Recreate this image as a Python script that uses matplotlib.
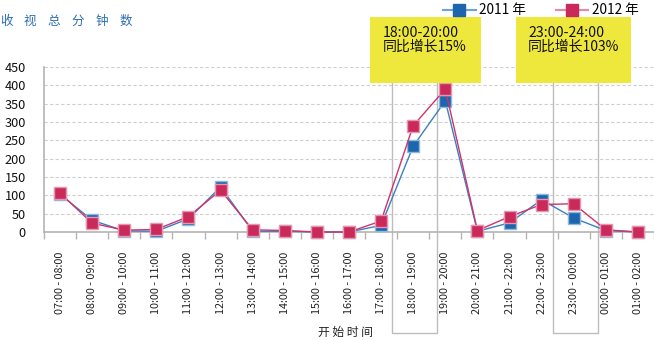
import matplotlib
matplotlib.use("Agg")
import matplotlib.pyplot as plt
import matplotlib.transforms as mtransforms
from matplotlib.lines import Line2D
from matplotlib.patches import Rectangle

plt.rcParams['font.family'] = ['Noto Sans CJK SC', 'DejaVu Sans']

slots = ["07:00 - 08:00", "08:00 - 09:00", "09:00 - 10:00", "10:00 - 11:00",
         "11:00 - 12:00", "12:00 - 13:00", "13:00 - 14:00", "14:00 - 15:00",
         "15:00 - 16:00", "16:00 - 17:00", "17:00 - 18:00", "18:00 - 19:00",
         "19:00 - 20:00", "20:00 - 21:00", "21:00 - 22:00", "22:00 - 23:00",
         "23:00 - 00:00", "00:00 - 01:00", "01:00 - 02:00"]
minutes_2011 = [103, 32, 3, 2, 36, 123, 2, 2, 0, 0, 18, 234, 358, 2, 25, 88, 38, 4, 0]
minutes_2012 = [106, 24, 5, 7, 42, 114, 6, 4, 0, 0, 30, 290, 390, 4, 42, 75, 77, 6, 0]
yticks = [0, 50, 100, 150, 200, 250, 300, 350, 400, 450]

BLUE = "#1d66ad"
RED = "#c92a5a"
YELLOW = "#efe83c"

W, H = 654, 340
fig = plt.figure(figsize=(W / 100, H / 100), dpi=100)
ax = fig.add_axes([44 / W, 1 - 232 / H, 610 / W, 165 / H])

x = list(range(len(slots)))
ax.plot(x, minutes_2011, color="#3a80c4", lw=1.0, marker="s", ms=8,
        mfc=BLUE, mec="#8fb8df", mew=1.0, zorder=3, clip_on=False)
ax.plot(x, minutes_2012, color="#d0336a", lw=1.0, marker="s", ms=8,
        mfc=RED, mec="#e795b1", mew=1.0, zorder=4, clip_on=False)

ax.set_xlim(-0.5, len(slots) - 0.5)
ax.set_ylim(0, 450)
ax.set_yticks(yticks)
ax.set_xticks(x)
ax.set_xticklabels(slots, rotation=90, fontsize=7.8, color="#222222")
ax.set_xticks([i - 0.5 for i in range(len(slots) + 1)], minor=True)
ax.tick_params(axis="x", which="major", length=0, pad=14)
ax.tick_params(axis="x", which="minor", length=5, color="#b4b4b4", width=1)
ax.tick_params(axis="y", length=0, pad=13, labelsize=9.2, labelcolor="#111111")

ax.grid(axis="y", color="#cfcfcf", lw=0.8, linestyle=(0, (3, 2)))
ax.set_axisbelow(True)
for side in ("top", "right"):
    ax.spines[side].set_visible(False)
for side in ("left", "bottom"):
    ax.spines[side].set_color("#b4b4b4")
    ax.spines[side].set_linewidth(1.2)

# title, spaced out character by character
for cx, ch in zip([6, 30, 54, 78, 102, 126], "收视总分钟数"):
    fig.text(cx / W, 1 - 21 / H, ch, color="#2a6db5", fontsize=9,
             ha="center", va="center")

fig.text(345 / W, 1 - 332 / H, "开 始 时 间", fontsize=8.5, ha="center",
         va="center", color="#222222")

# highlight frames around the two compared slots
blend = mtransforms.blended_transform_factory(ax.transData, fig.transFigure)
for idx in (11, 16):
    ax.add_patch(Rectangle((idx - 0.65, 1 - 333 / H), 1.4, 258 / H,
                           transform=blend, fill=False, ec="#bdbdbd",
                           lw=1.0, clip_on=False, zorder=2))

# callout boxes
for x0, x1, tx, span, growth in [(370, 481, 383, "18:00-20:00", "同比增长15%"),
                                 (516, 631, 528, "23:00-24:00", "同比增长103%")]:
    fig.patches.append(Rectangle((x0 / W, 1 - 83 / H), (x1 - x0) / W, 66 / H,
                                 transform=fig.transFigure, fc=YELLOW,
                                 ec="none", zorder=5))
    fig.text(tx / W, 1 - 33 / H, span, fontsize=10.2, ha="left", va="center",
             color="#111111", zorder=6)
    fig.text(tx / W, 1 - 47 / H, growth, fontsize=10, ha="left", va="center",
             color="#111111", zorder=6)

handles = [
    Line2D([], [], color="#6fa3d6", lw=1.5, marker="s", ms=8.5, mfc=BLUE, mec=BLUE),
    Line2D([], [], color="#e58aa8", lw=1.5, marker="s", ms=8.5, mfc=RED, mec=RED),
]
fig.legend(handles, ["2011 年", "2012 年"], loc="upper right",
           bbox_to_anchor=(644 / W, 1 + 2 / H), ncol=2, frameon=False,
           fontsize=9.8, handlelength=2.4, columnspacing=2.2,
           handletextpad=0.25, borderaxespad=0)

fig.savefig("out.png", dpi=100)
